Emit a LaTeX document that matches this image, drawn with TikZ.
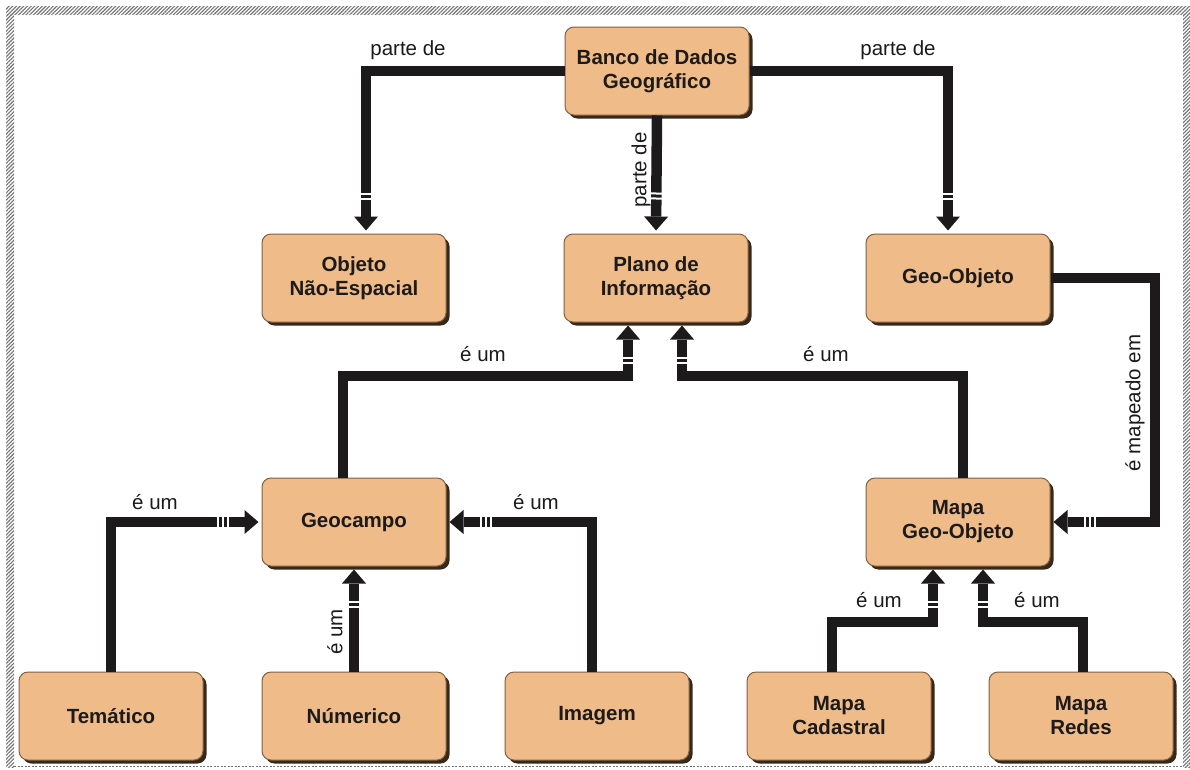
\documentclass[tikz,border=0pt]{standalone}
\usepackage{fontspec}
\setmainfont{Liberation Sans}
\usetikzlibrary{arrows.meta,decorations.markings,shadows,patterns.meta}

\definecolor{boxfill}{RGB}{238,187,137}
\definecolor{boxedge}{RGB}{130,96,64}
\definecolor{boxshade}{RGB}{55,40,28}
\definecolor{ink}{RGB}{28,26,26}
\definecolor{hatch}{RGB}{115,115,115}

\tikzset{
  box/.style={rectangle, rounded corners=9pt, fill=boxfill, draw=boxedge,
    line width=1pt, minimum width=184pt, minimum height=88pt, inner sep=0pt,
    align=center, text=ink, font=\bfseries\fontsize{20.5}{24}\selectfont,
    drop shadow={shadow xshift=3.5pt, shadow yshift=-3.5pt, opacity=1, fill=boxshade}},
  lbl/.style={text=ink, font=\fontsize{20.5}{24}\selectfont, inner sep=0pt},
  conn/.style={draw=ink, line width=10.5pt, line join=miter,
    -{Triangle[width=24pt,length=14pt,line width=0pt]}, shorten >=3pt},
  stripe/.style={draw=white, line width=2pt, -, shorten >=0pt},
  cuttwo/.style={postaction={decorate, decoration={markings,
    mark=at position -35pt with {\draw[stripe] (0,-6pt) -- (0,6pt);},
    mark=at position -40pt with {\draw[stripe] (0,-6pt) -- (0,6pt);}}}},
  cutthree/.style={postaction={decorate, decoration={markings,
    mark=at position -34pt with {\draw[stripe] (0,-6pt) -- (0,6pt);},
    mark=at position -39pt with {\draw[stripe] (0,-6pt) -- (0,6pt);},
    mark=at position -44pt with {\draw[stripe] (0,-6pt) -- (0,6pt);}}}},
  bandfill/.style={pattern={Lines[angle=45,distance=2.6pt,line width=1.1pt]}, pattern color=hatch}
}

\begin{document}
\begin{tikzpicture}[x=1pt,y=-1pt]
  \useasboundingbox (0,0) rectangle (1190,769);
  \fill[white] (0,0) rectangle (1190,769);

  % hatched frame
  \path[bandfill] (6,6) rectangle (1190,14);
  \path[bandfill] (6,14) rectangle (14,767);
  \path[bandfill] (1183,14) rectangle (1190,767);
  \draw[hatch, line width=1pt, dash pattern=on 2pt off 1.5pt] (14,766) -- (1183,766);

  % boxes
  \node[box] (banco)     at (657,71)  {Banco de Dados\\Geográfico};
  \node[box] (objeto)    at (354,278) {Objeto\\Não-Espacial};
  \node[box] (plano)     at (656,278) {Plano de\\Informação};
  \node[box] (geoobj)    at (958,278) {Geo-Objeto};
  \node[box] (geocampo)  at (354,522) {Geocampo};
  \node[box] (mgo)       at (958,522) {Mapa\\Geo-Objeto};
  \node[box] (tematico)  at (111,716) {Temático};
  \node[box] (numerico)  at (354,716) {Númerico};
  \node[box] (imagem)    at (597,716) {Imagem};
  \node[box] (cadastral) at (839,716) {Mapa\\Cadastral};
  \node[box] (redes)     at (1081,716) {Mapa\\Redes};

  % routing levels and entry points
  \coordinate (busA) at (0,376);
  \coordinate (busB) at (0,622);
  \coordinate (rside) at (1155,0);
  \coordinate (pl) at ([xshift=-28]plano.south);
  \coordinate (pr) at ([xshift=26]plano.south);
  \coordinate (cl) at ([xshift=-25]mgo.south);
  \coordinate (cr) at ([xshift=25]mgo.south);

  % connectors
  \draw[conn,cuttwo] (banco.west) -| ([xshift=12]objeto.north);
  \draw[conn,cuttwo] (banco.south) -- (plano.north);
  \draw[conn,cuttwo] (banco.east) -| ([xshift=-10]geoobj.north);
  \draw[conn,cuttwo] ([xshift=-11]geocampo.north) |- (busA -| pl) -- (pl);
  \draw[conn,cuttwo] ([xshift=5]mgo.north) |- (busA -| pr) -- (pr);
  \draw[conn,cutthree] (geoobj.east) -| (rside |- mgo.east) -- (mgo.east);
  \draw[conn,cutthree] (tematico.north) |- (geocampo.west);
  \draw[conn,cuttwo] (numerico.north) -- (geocampo.south);
  \draw[conn,cutthree] ([xshift=-5]imagem.north) |- (geocampo.east);
  \draw[conn,cuttwo] ([xshift=-7]cadastral.north) |- (busB -| cl) -- (cl);
  \draw[conn,cuttwo] ([xshift=2]redes.north) |- (busB -| cr) -- (cr);

  % connector labels
  \node[lbl] (lpa) at (408,50) {parte de};
  \node[lbl] (lpb) at (898,50) {parte de};
  \node[lbl, rotate=90] (lpc) at (641,170) {parte de};
  \node[lbl] (lea) at (483,354) {é um};
  \node[lbl] (leb) at (826,354) {é um};
  \node[lbl, rotate=90] (lmap) at (1135,403) {é mapeado em};
  \node[lbl] (lec) at (155,502) {é um};
  \node[lbl] (led) at (536,502) {é um};
  \node[lbl, rotate=90] (lee) at (335,632) {é um};
  \node[lbl] (lef) at (879,600) {é um};
  \node[lbl] (leg) at (1037,600) {é um};
\end{tikzpicture}
\end{document}
